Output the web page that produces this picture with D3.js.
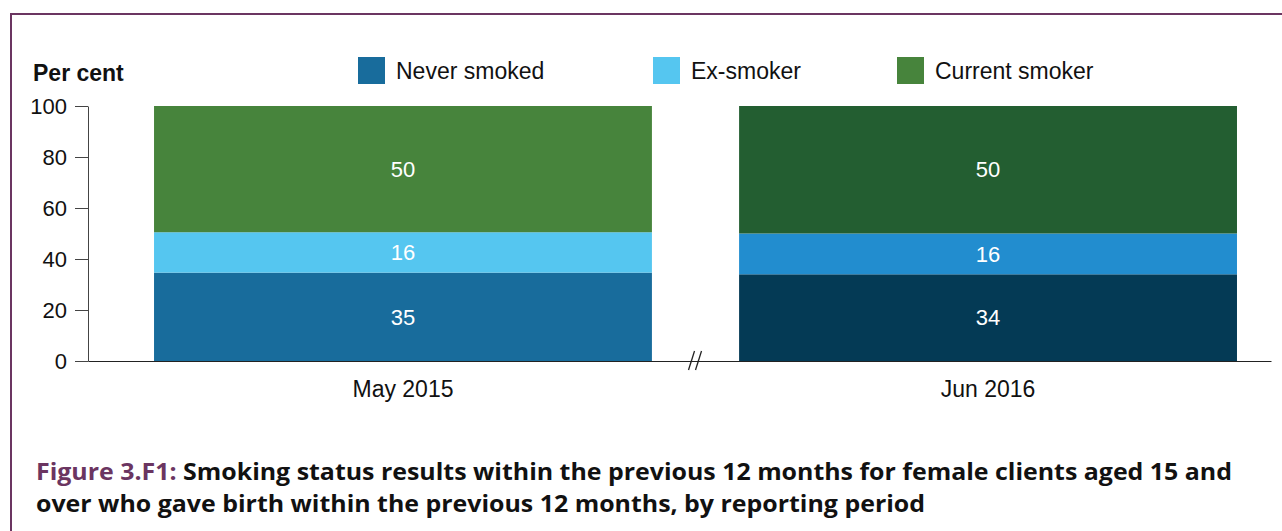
<!DOCTYPE html>
<html>
<head>
<meta charset="utf-8">
<script src="https://cdn.jsdelivr.net/npm/d3@7"></script>
<style>
  body { margin: 0; background: #fff; }
  svg { display: block; font-family: 'Liberation Sans', Arial, sans-serif; }
</style>
</head>
<body>
<script>
// reporting periods and smoking status shares (per cent)
var periods = ['May 2015', 'Jun 2016'];
var statuses = ['Never smoked', 'Ex-smoker', 'Current smoker'];
var neverSmoked = [35, 34];
var exSmoker = [16, 16];
var currentSmoker = [50, 50];
var yTicks = [0, 20, 40, 60, 80, 100];

// each period gets its own palette
var palettes = [
  ['#186c9c', '#55c6f0', '#47843c'],
  ['#043a55', '#228dcf', '#235e31']
];

var width = 1282,
  height = 531;

var svg = d3.select('body').append('svg')
  .attr('width', width)
  .attr('height', height);

// frame
svg.append('path')
  .attr('d', 'M11,531 V14 H1282')
  .attr('fill', 'none')
  .attr('stroke', '#6b3561')
  .attr('stroke-width', 2);

var rows = periods.map(function (p, i) {
  return { period: p, 'Never smoked': neverSmoked[i], 'Ex-smoker': exSmoker[i], 'Current smoker': currentSmoker[i] };
});

var stack = d3.stack()
  .keys(statuses)
  .offset(d3.stackOffsetExpand);
var series = stack(rows);

var x = d3.scaleBand()
  .domain(periods)
  .range([88, 1271])
  .paddingInner(0.149)
  .paddingOuter(0.0855)
  .align(0.66);

var y = d3.scaleLinear()
  .domain([0, 100])
  .range([361, 106]);

// bars
series.forEach(function (s, k) {
  var g = svg.append('g').attr('class', 'series');
  g.selectAll('rect')
    .data(s)
    .enter()
    .append('rect')
    .attr('x', function (d) { return x(d.data.period); })
    .attr('width', x.bandwidth())
    .attr('y', function (d) { return y(d[1] * 100); })
    .attr('height', function (d) { return y(d[0] * 100) - y(d[1] * 100); })
    .attr('fill', function (d, i) { return palettes[i][k]; });

  g.selectAll('text')
    .data(s)
    .enter()
    .append('text')
    .attr('x', function (d) { return x(d.data.period) + x.bandwidth() / 2; })
    .attr('y', function (d) { return (y(d[0] * 100) + y(d[1] * 100)) / 2; })
    .attr('dy', '0.35em')
    .attr('text-anchor', 'middle')
    .attr('fill', '#fff')
    .style('font-size', '22px')
    .text(function (d) { return d.data[s.key]; });
});

// y axis
var yAxis = svg.append('g')
  .attr('transform', 'translate(88,0)')
  .call(d3.axisLeft(y).tickValues(yTicks).tickSize(13).tickSizeOuter(0).tickPadding(8));
yAxis.select('.domain').attr('stroke', '#444');
yAxis.selectAll('.tick line').attr('stroke', '#444');
yAxis.selectAll('.tick text')
  .style('font-size', '22px')
  .style('font-family', "'Liberation Sans', Arial, sans-serif")
  .attr('fill', '#111');

// x axis
var xAxis = svg.append('g')
  .attr('transform', 'translate(0,361)')
  .call(d3.axisBottom(x).tickSize(0).tickSizeOuter(0).tickPadding(20));
xAxis.select('.domain').attr('stroke', '#222');
xAxis.selectAll('.tick text')
  .style('font-size', '23px')
  .style('font-family', "'Liberation Sans', Arial, sans-serif")
  .attr('fill', '#111');

// axis break between the two periods
var bx = (x(periods[0]) + x.bandwidth() + x(periods[1])) / 2;
[-4, 3].forEach(function (o) {
  svg.append('line')
    .attr('x1', bx + o - 3).attr('y1', 370)
    .attr('x2', bx + o + 3).attr('y2', 351)
    .attr('stroke', '#222')
    .attr('stroke-width', 1.3);
});

svg.append('text')
  .attr('x', 33)
  .attr('y', 81)
  .style('font-size', '23px')
  .style('font-weight', 'bold')
  .attr('fill', '#111')
  .text('Per cent');

// legend
var legendX = [358, 653, 897];
var legend = svg.selectAll('.legend')
  .data(statuses)
  .enter()
  .append('g')
  .attr('class', 'legend')
  .attr('transform', function (d, i) { return 'translate(' + legendX[i] + ',57)'; });
legend.append('rect')
  .attr('width', 27)
  .attr('height', 27)
  .attr('fill', function (d, i) { return palettes[0][i]; });
legend.append('text')
  .attr('x', 38)
  .attr('y', 13.5)
  .attr('dy', '0.35em')
  .style('font-size', '23px')
  .attr('fill', '#111')
  .text(function (d) { return d; });

// caption
var caption = svg.append('g')
  .style('font-family', "'Open Sans', sans-serif")
  .style('font-weight', 'bold')
  .style('font-size', '24px');
var line1 = caption.append('text')
  .attr('x', 36)
  .attr('y', 480)
  .attr('textLength', 1196)
  .attr('lengthAdjust', 'spacingAndGlyphs');
line1.append('tspan').attr('fill', '#6b3561').text('Figure 3.F1: ');
line1.append('tspan').attr('fill', '#111').text('Smoking status results within the previous 12 months for female clients aged 15 and');
caption.append('text')
  .attr('x', 36)
  .attr('y', 512)
  .attr('textLength', 889)
  .attr('lengthAdjust', 'spacingAndGlyphs')
  .attr('fill', '#111')
  .text('over who gave birth within the previous 12 months, by reporting period');
</script>
</body>
</html>
